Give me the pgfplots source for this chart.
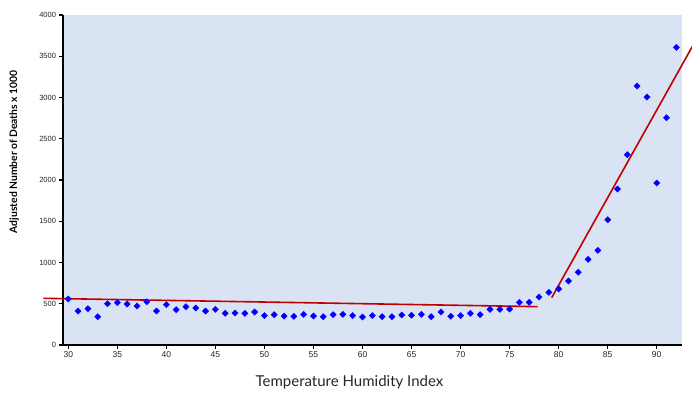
\documentclass[border=0pt]{standalone}
\usepackage{fontspec}
\setmainfont{Liberation Sans}
\newfontfamily\lato{Lato}
\usepackage{pgfplots}
\pgfplotsset{compat=1.18}
\definecolor{bg}{HTML}{DAE3F3}
\definecolor{myred}{HTML}{C00000}
\definecolor{myblue}{HTML}{0000FF}
\begin{document}
\begin{tikzpicture}
\useasboundingbox (-63pt,-47pt) rectangle (629pt,345pt);
\begin{axis}[
 at={(0,0)}, anchor=south west,
 scale only axis, width=619pt, height=330pt,
 xmin=29.46, xmax=92.58, ymin=0, ymax=4000,
 clip=false,
 axis x line*=bottom, axis y line*=left,
 axis line style={line width=2pt, black},
 axis background/.style={fill=bg},
 xtick={30,35,...,90}, ytick={0,500,...,4000},
 tick align=outside, major tick length=3.5pt,
 tick style={black, line width=1.2pt},
 /pgf/number format/assume math mode=true,
 /pgf/number format/1000 sep={},
 xticklabel style={font=\fontsize{8.5}{10}\selectfont, color=black!85},
 yticklabel style={font=\fontsize{7.5}{9}\selectfont, color=black!85},
 xlabel={Temperature Humidity Index},
 ylabel={Adjusted Number of Deaths x 1000},
 xlabel style={font=\lato\fontsize{15}{17}\selectfont, color=black!85, at={(axis description cs:0.4628,-0.113)}, anchor=center},
 ylabel style={font=\lato\bfseries\fontsize{10.3}{12}\selectfont, at={(axis description cs:-0.079,0.585)}, anchor=center},
]
\addplot[only marks, mark=square*, mark size=2.2pt, color=myblue, mark options={rotate=45}] coordinates {
(30,557)(31,412)(32,440)(33,343)(34,501)(35,513)(36,497)(37,473)(38,525)(39,412)
(40,489)(41,428)(42,465)(43,448)(44,412)(45,432)(46,384)(47,388)(48,384)(49,400)
(50,356)(51,368)(52,350)(53,348)(54,372)(55,352)(56,343)(57,368)(58,372)(59,356)
(60,339)(61,356)(62,343)(63,343)(64,364)(65,360)(66,372)(67,343)(68,400)(69,348)
(70,356)(71,384)(72,368)(73,432)(74,432)(75,436)(76,517)(77,517)(78,582)(79,638)
(80,679)(81,776)(82,881)(83,1038)(84,1147)(85,1518)(86,1891)(87,2307)(88,3139)(89,3006)
(90,1964)(91,2755)(92,3608)
};
\addplot[color=myred, line width=1.6pt] coordinates {(27.45,566)(77.86,465)};
\addplot[color=myred, line width=1.6pt] coordinates {(79.29,573)(94,3696)};
\end{axis}
\end{tikzpicture}
\end{document}
